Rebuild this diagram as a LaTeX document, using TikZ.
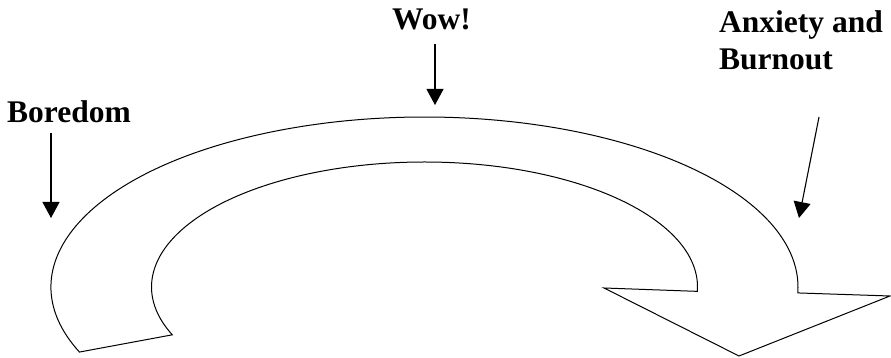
\documentclass[tikz,border=0pt]{standalone}
\usepackage{fontspec}
\setmainfont{Liberation Serif}
\usetikzlibrary{arrows.meta,calc}
\tikzset{
  lbl/.style={font=\fontsize{31.5}{37}\selectfont\bfseries, inner sep=0pt, anchor=base west, align=left},
  pointer/.style={line width=1.1pt, -{Triangle[length=16pt,width=17pt]}},
  band/.style={line width=1pt, fill=white, line join=miter}
}
\begin{document}
\begin{tikzpicture}[x=1pt,y=1pt]
\useasboundingbox[fill=white] (0,0) rectangle (891,358);
\coordinate (C) at (424.5,71);
% curved block arrow
\draw[band] ($(C)+(202.5:373.5 and 170)$)
  arc[start angle=202.5,end angle=-2,x radius=373.5,y radius=170]
  -- (890,62) coordinate (hr) -- (739,2) coordinate (tip) -- (604,70) coordinate (hl)
  -- ($(C)+(-2:273 and 125)$)
  arc[start angle=-2,end angle=202.5,x radius=273,y radius=125]
  -- cycle;
% labels
\node[lbl] (bore) at (7,235) {Boredom};
\node[lbl] (wow) at (392,328) {Wow!};
\node[lbl] (anx) at (719,288) {Anxiety and\\Burnout};
% pointers
\coordinate (b1) at (51,225); \coordinate (b2) at (51,140);
\coordinate (w1) at (435,314); \coordinate (w2) at (435,253);
\coordinate (a1) at (819,241); \coordinate (a2) at (799,140);
\draw[pointer] (b1) -- (b2);
\draw[pointer] (w1) -- (w2);
\draw[pointer] (a1) -- (a2);
\end{tikzpicture}
\end{document}
